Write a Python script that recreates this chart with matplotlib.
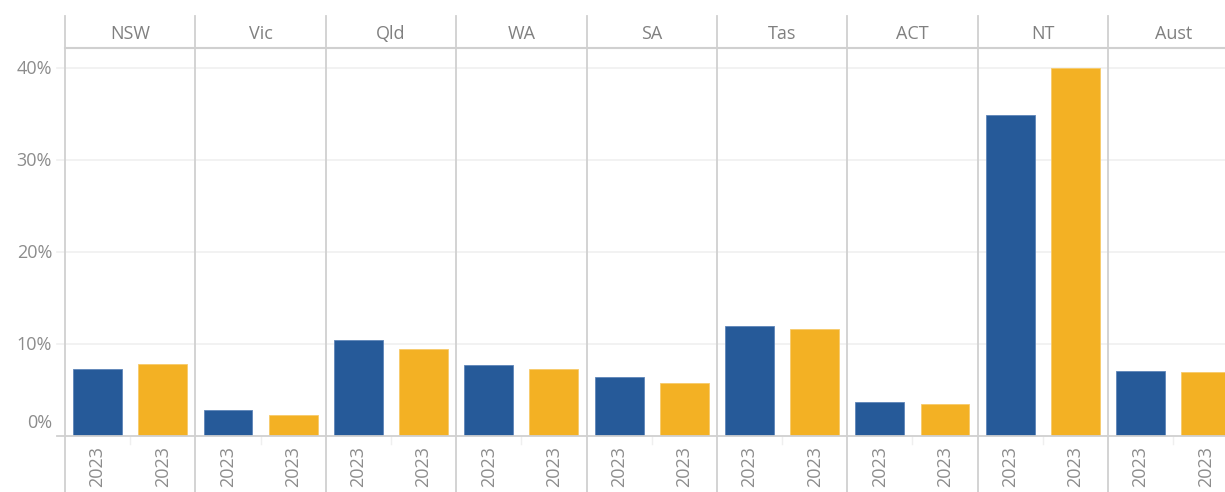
import matplotlib
matplotlib.use("Agg")
import matplotlib.pyplot as plt
import numpy as np

# ---- data ----
states = ["NSW", "Vic", "Qld", "WA", "SA", "Tas", "ACT", "NT", "Aust"]
year_labels = ["2023", "2023"]
series_blue = [7.3, 2.8, 10.4, 7.7, 6.45, 12.0, 3.65, 34.9, 7.1]
series_orange = [7.8, 2.3, 9.5, 7.3, 5.75, 11.6, 3.47, 40.0, 7.0]
yticks = [0, 10, 20, 30, 40]
ytick_labels = ["0%", "10%", "20%", "30%", "40%"]

BLUE = "#265A99"
ORANGE = "#F3B124"
TXT = "#8C8C8C"
LINE = "#D0D0D0"
GRID = "#F0F0F0"

plt.rcParams["font.family"] = ["Open Sans", "DejaVu Sans"]

W, H = 1225, 492
fig = plt.figure(figsize=(W / 100, H / 100), dpi=100)

left_px, zero_px, top_px = 65, 436, 48
panel_px = (1108 - 65) / 8.0
n = len(states)
ax_w_px = panel_px * n
ax = fig.add_axes([left_px / W, (H - zero_px) / H, ax_w_px / W, (zero_px - top_px) / H])

px_per_pct = 9.2
ax.set_ylim(0, (zero_px - top_px) / px_per_pct)
ax.set_xlim(0, 2 * n)

x_blue = np.arange(n) * 2 + 0.5
x_orange = np.arange(n) * 2 + 1.5
ax.bar(x_blue, series_blue, width=0.75, color=BLUE, edgecolor="#5E85B8", linewidth=0.6, zorder=3)
ax.bar(x_orange, series_orange, width=0.75, color=ORANGE, edgecolor="#F7CB6A", linewidth=0.6, zorder=3)

for s in ax.spines.values():
    s.set_visible(False)

# gridlines (extend slightly to the left of the axes)
ext = -8 / ax_w_px
for v in yticks[1:]:
    ax.axhline(v, xmin=ext, xmax=1, color=GRID, lw=1.2, zorder=1, clip_on=False)
ax.axhline(0, xmin=ext, xmax=1, color=LINE, lw=1.3, zorder=4, clip_on=False)
# header bottom line
ax.axhline(ax.get_ylim()[1], xmin=0, xmax=1, color=LINE, lw=1.5, zorder=4, clip_on=False)

# panel separators
ax_h_px = zero_px - top_px
ymin = -(H - zero_px) / ax_h_px
ymax = (zero_px - 16) / ax_h_px
for i in range(n + 1):
    ax.axvline(2 * i, ymin=ymin, ymax=ymax, color=LINE, lw=1.3, zorder=4, clip_on=False)

# faint tick separators between the two bars in each panel
for i in range(n):
    ax.axvline(2 * i + 1, ymin=-8 / ax_h_px, ymax=0, color="#EFEFEF", lw=1, clip_on=False)

# header labels
for i, st in enumerate(states):
    ax.text(2 * i + 1, 1 + (top_px - 34) / ax_h_px, st, transform=ax.get_xaxis_transform(),
            ha="center", va="center", fontsize=13, color="#808080", clip_on=False)

# y tick labels
ax.set_yticks([])
for v, lab in zip(yticks, ytick_labels):
    off = 13 if v == 0 else -1
    ax.annotate(lab, xy=(0, v), xycoords=("axes fraction", "data"), xytext=(-13, off),
                textcoords="offset pixels", ha="right", va="center", fontsize=13, color=TXT)

# x tick labels
xt = np.sort(np.concatenate([x_blue, x_orange]))
ax.set_xticks(xt)
ax.set_xticklabels(year_labels * n, rotation=90, fontsize=13, color=TXT)
ax.tick_params(axis="x", length=0, pad=7)

fig.savefig("out.png", dpi=100, facecolor="white")
